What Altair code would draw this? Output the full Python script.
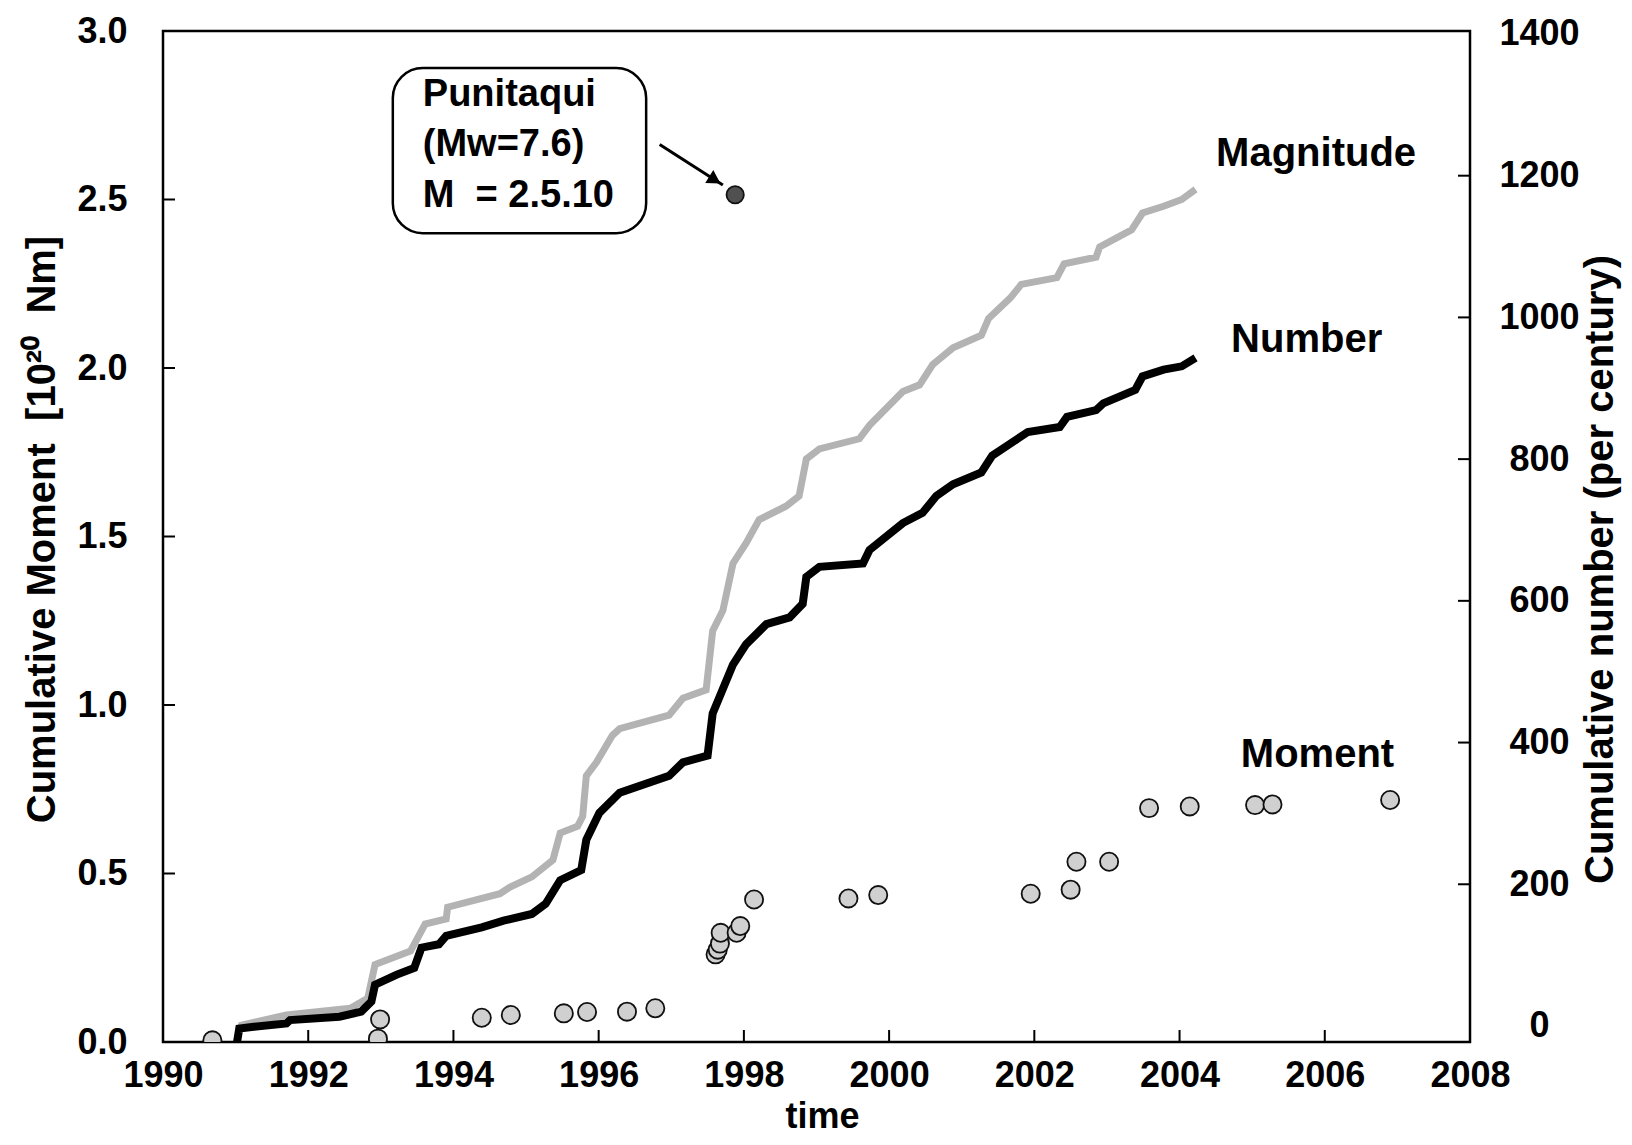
import altair as alt
import pandas as pd

# ---------------- data ----------------
number_t = [1991.02, 1991.05, 1991.25, 1991.70, 1991.75, 1992.43, 1992.73, 1992.87, 1992.92,
            1993.22, 1993.46, 1993.56, 1993.80, 1993.90, 1994.39, 1994.69, 1995.08, 1995.27,
            1995.47, 1995.76, 1995.83, 1996.01, 1996.29, 1996.97, 1997.16, 1997.50, 1997.57,
            1997.85, 1998.03, 1998.31, 1998.63, 1998.81, 1998.86, 1999.04, 1999.64, 1999.73,
            2000.19, 2000.46, 2000.65, 2000.88, 2001.27, 2001.42, 2001.77, 2001.91, 2002.35,
            2002.45, 2002.85, 2002.95, 2003.39, 2003.49, 2003.78, 2004.03, 2004.22]
number_v = [0.00, 0.04, 0.045, 0.055, 0.065, 0.075, 0.09, 0.12, 0.17,
            0.20, 0.22, 0.28, 0.29, 0.315, 0.34, 0.36, 0.38, 0.41,
            0.48, 0.51, 0.60, 0.68, 0.74, 0.79, 0.83, 0.85, 0.975,
            1.12, 1.18, 1.24, 1.26, 1.30, 1.38, 1.41, 1.42, 1.46,
            1.54, 1.57, 1.62, 1.655, 1.69, 1.74, 1.79, 1.81, 1.825,
            1.855, 1.875, 1.895, 1.935, 1.975, 1.995, 2.005, 2.03]

magnitude_t = [1991.05, 1991.08, 1991.70, 1992.58, 1992.82, 1992.92, 1993.41, 1993.61, 1993.90,
               1993.92, 1994.64, 1994.78, 1995.08, 1995.37, 1995.47, 1995.71, 1995.78, 1995.83,
               1995.97, 1996.19, 1996.29, 1996.97, 1997.16, 1997.48, 1997.57, 1997.71, 1997.85,
               1998.03, 1998.21, 1998.58, 1998.76, 1998.86, 1999.04, 1999.59, 1999.73, 2000.19,
               2000.42, 2000.60, 2000.88, 2001.27, 2001.37, 2001.67, 2001.82, 2002.31, 2002.41,
               2002.85, 2002.90, 2003.34, 2003.49, 2003.78, 2004.03, 2004.22]
magnitude_v = [0.03, 0.05, 0.08, 0.10, 0.13, 0.23, 0.27, 0.35, 0.365,
               0.40, 0.44, 0.46, 0.49, 0.54, 0.62, 0.64, 0.67, 0.79,
               0.83, 0.91, 0.93, 0.97, 1.02, 1.045, 1.22, 1.28, 1.42,
               1.48, 1.55, 1.59, 1.62, 1.73, 1.76, 1.79, 1.83, 1.93,
               1.95, 2.01, 2.06, 2.097, 2.147, 2.208, 2.248, 2.268, 2.309,
               2.329, 2.359, 2.41, 2.46, 2.48, 2.50, 2.53]

moment_t = [1990.68, 1992.96, 1992.99, 1994.39, 1994.79, 1995.52, 1995.84, 1996.39, 1996.78,
            1997.61, 1997.64, 1997.67, 1997.68, 1997.90, 1997.95, 1998.14, 1999.44, 1999.85,
            2001.95, 2002.50, 2002.58, 2003.03, 2003.58, 2004.14, 2005.04, 2005.28, 2006.90]
moment_v = [0.005, 0.01, 0.067, 0.072, 0.08, 0.085, 0.089, 0.09, 0.10,
            0.26, 0.274, 0.292, 0.324, 0.324, 0.344, 0.423, 0.426, 0.436,
            0.44, 0.452, 0.535, 0.535, 0.694, 0.699, 0.703, 0.705, 0.718]

punitaqui_t = [1997.88]
punitaqui_v = [2.514]

x_tick_values = [1990, 1992, 1994, 1996, 1998, 2000, 2002, 2004, 2006, 2008]
x_inner_ticks = [1992, 1994, 1996, 1998, 2000, 2002, 2004, 2006]
left_tick_values = [0.0, 0.5, 1.0, 1.5, 2.0, 2.5, 3.0]
left_inner_ticks = [0.5, 1.0, 1.5, 2.0, 2.5]
right_tick_values = [0, 200, 400, 600, 800, 1000, 1200, 1400]
right_inner_ticks = [200, 400, 600, 800, 1000, 1200]

series_labels = ["Magnitude", "Number", "Moment"]
series_label_t = [2005.88, 2005.75, 2005.90]
series_label_v = [2.636, 2.083, 0.852]

box_lines = ["Punitaqui", "(Mw=7.6)", "M\u00a0 = 2.5.10"]
box_line_t = [1993.578, 1993.578, 1993.578]
box_line_v = [2.776, 2.628, 2.479]
box_t = [1993.165, 1996.654]
box_v = [2.890, 2.400]

arrow_t = [1996.84, 1997.71]
arrow_v = [2.663, 2.543]
arrow_head_t = [1997.60]
arrow_head_v = [2.558]

# ---------------- chart ----------------
FONT = "Liberation Sans"
W, H = 1307, 1011
TICK = 12

xs = alt.Scale(domain=[1990, 2008], nice=False, zero=False)
ys = alt.Scale(domain=[0, 3], nice=False, zero=False)
rs = alt.Scale(domain=[-22.6, 1404.2], nice=False, zero=False)

df_num = pd.DataFrame({"t": number_t, "v": number_v})
df_mag = pd.DataFrame({"t": magnitude_t, "v": magnitude_v})
df_mom = pd.DataFrame({"t": moment_t, "v": moment_v})
df_pun = pd.DataFrame({"t": punitaqui_t, "v": punitaqui_v})
df_lab = pd.DataFrame({"t": series_label_t, "v": series_label_v, "s": series_labels})
df_box_txt = pd.DataFrame({"t": box_line_t, "v": box_line_v, "s": box_lines})
df_box = pd.DataFrame({"t": [box_t[0]], "t2": [box_t[1]], "v": [box_v[0]], "v2": [box_v[1]]})
df_arrow = pd.DataFrame({"t": arrow_t, "v": arrow_v})
df_head = pd.DataFrame({"t": arrow_head_t, "v": arrow_head_v})
df_xt = pd.DataFrame({"t": x_inner_ticks})
df_lt = pd.DataFrame({"v": left_inner_ticks})
df_rt = pd.DataFrame({"r": right_inner_ticks})

x_axis = alt.Axis(values=x_tick_values, format="d", title="time", tickSize=0, domain=False,
                  grid=False, labelPadding=16, labelFlush=False, labelOverlap=False,
                  titleX=659, titleY=85, titleBaseline="alphabetic", titleAlign="center",
                  titleFontSize=36)
y_axis = alt.Axis(values=left_tick_values, format=".1f",
                  title="Cumulative Moment\u00a0 [10\u00b2\u2070\u00a0 Nm]",
                  tickSize=0, domain=False, grid=False, labelPadding=36, labelFlush=False,
                  labelOverlap=False, titleAngle=270, titleX=-121, titleY=498,
                  titleAlign="center", titleBaseline="middle", titleFontSize=40)
r_axis = alt.Axis(orient="right", values=right_tick_values, format="d",
                  title="Cumulative number (per century)", tickSize=0, domain=False,
                  grid=False, labelPadding=69, labelAlign="center", labelFlush=False,
                  labelOverlap=False, titleAngle=270, titleX=130, titleY=538,
                  titleAlign="center", titleBaseline="middle", titleFontSize=40)


def X():
    return alt.X("t:Q", scale=xs, axis=x_axis)


def Y():
    return alt.Y("v:Q", scale=ys, axis=y_axis)


gray_line = alt.Chart(df_mag).mark_line(color="#b3b3b3", strokeWidth=7).encode(x=X(), y=Y())
black_line = alt.Chart(df_num).mark_line(color="#000000", strokeWidth=8).encode(x=X(), y=Y())
moment_pts = alt.Chart(df_mom).mark_point(
    shape="circle", filled=True, fill="#d0d0d0", stroke="#111111", strokeWidth=1.8,
    size=330, opacity=1, clip=True).encode(x=X(), y=Y())
pun_pt = alt.Chart(df_pun).mark_point(
    shape="circle", filled=True, fill="#505050", stroke="#111111", strokeWidth=1.8,
    size=300, opacity=1).encode(x=X(), y=Y())

box = alt.Chart(df_box).mark_rect(fill="white", stroke="black", strokeWidth=2.5,
                                  cornerRadius=30).encode(
    x=X(), x2="t2:Q", y=Y(), y2="v2:Q")
box_text = alt.Chart(df_box_txt).mark_text(
    font=FONT, fontSize=38, fontWeight="bold", align="left", baseline="alphabetic",
    color="black").encode(x=X(), y=Y(), text="s:N")
arrow = alt.Chart(df_arrow).mark_line(color="black", strokeWidth=3).encode(x=X(), y=Y())
arrow_head = alt.Chart(df_head).mark_point(
    shape="triangle-up", filled=True, color="black", size=230, angle=122, opacity=1).encode(
    x=X(), y=Y())
labels = alt.Chart(df_lab).mark_text(
    font=FONT, fontSize=40, fontWeight="bold", align="center", baseline="middle",
    color="black").encode(x=X(), y=Y(), text="s:N")

x_ticks = alt.Chart(df_xt).mark_rule(color="black", strokeWidth=2).encode(
    x=X(), y=alt.value(H), y2=alt.value(H - TICK))
l_ticks = alt.Chart(df_lt).mark_rule(color="black", strokeWidth=2).encode(
    y=Y(), x=alt.value(0), x2=alt.value(TICK))

left = alt.layer(box, box_text, gray_line, black_line, moment_pts, arrow, arrow_head,
                 pun_pt, labels, x_ticks, l_ticks)

r_ticks = alt.Chart(df_rt).mark_rule(color="black", strokeWidth=2).encode(
    y=alt.Y("r:Q", scale=rs, axis=r_axis), x=alt.value(W), x2=alt.value(W - TICK))

chart = alt.layer(left, r_ticks).resolve_scale(y="independent").properties(
    width=W, height=H,
    autosize=alt.AutoSizeParams(type="none"),
    padding={"left": 155, "top": 23, "right": 154, "bottom": 95},
    background="white",
).configure_view(stroke="black", strokeWidth=2.5).configure_axis(
    labelFont=FONT, labelFontSize=36, labelFontWeight="bold", labelColor="black",
    titleFont=FONT, titleFontWeight="bold", titleColor="black",
)

chart.save("out.html", embed_options={"renderer": "svg", "actions": False})
